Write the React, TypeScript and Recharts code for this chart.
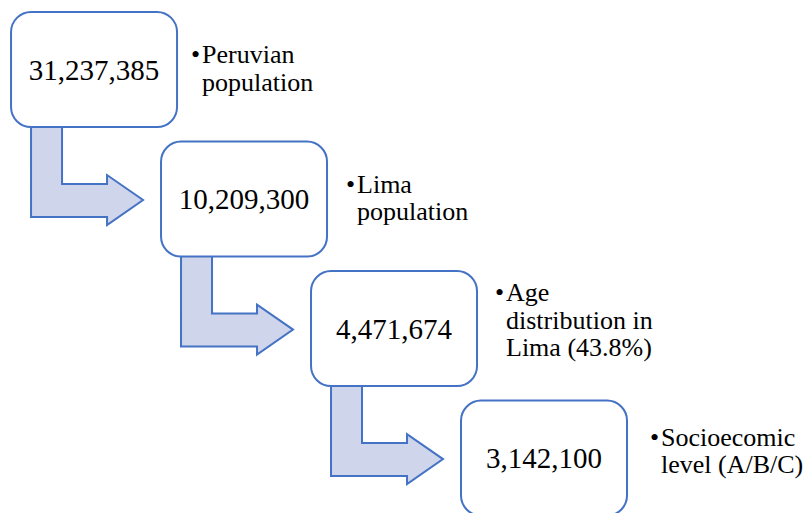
import React from 'react';
import { ScatterChart, Scatter, XAxis, YAxis } from 'recharts';

// funnel steps, top to bottom
const STAGE_VALUES = [31237385, 10209300, 4471674, 3142100];
const STAGE_LABELS = [
    ['Peruvian', 'population'],
    ['Lima', 'population'],
    ['Age', 'distribution in', 'Lima (43.8%)'],
    ['Socioecomic', 'level (A/B/C)'],
];

// small layout nudges for the side notes (bullet gap, first baseline from box top)
const NOTE_DX = [14, 19, 18, 23];
const NOTE_DY = [51, 51, 30, 45];

const BLUE = '#4472C4';
const ARROW_FILL = '#CFD5EA';
const BOX_W = 166;
const BOX_H = 115;
const SERIF = 'Liberation Serif, Times New Roman, serif';

const data = STAGE_VALUES.map((value, i) => ({
    step: i,
    level: i,
    value,
    label: STAGE_LABELS[i],
    last: i === STAGE_VALUES.length - 1,
}));

const StageShape = ({ cx, cy, payload, index }: any) => {
    const left = cx - BOX_W / 2;
    const top = cy - BOX_H / 2;
    const right = left + BOX_W;
    const bottom = top + BOX_H;
    const i = index ?? payload.step;

    const arrow = `M${left + 20},${bottom - 1} L${left + 51},${bottom - 1} L${left + 51},${bottom + 57} `
        + `L${left + 96},${bottom + 57} L${left + 96},${bottom + 48} L${left + 132},${bottom + 73} `
        + `L${left + 96},${bottom + 98} L${left + 96},${bottom + 90} L${left + 20},${bottom + 90} Z`;

    const noteX = right + NOTE_DX[i];
    const noteY = top + NOTE_DY[i];

    return (
        <g>
            {!payload.last && (
                <path d={arrow} fill={ARROW_FILL} stroke={BLUE} strokeWidth={2} strokeLinejoin="miter" />
            )}
            <rect x={left} y={top} width={BOX_W} height={BOX_H} rx={20} ry={20} fill="#fff" stroke={BLUE} strokeWidth={2} />
            <text x={cx} y={cy + 10} textAnchor="middle" fontFamily={SERIF} fontSize={29} fill="#000">
                {payload.value.toLocaleString('en-US')}
            </text>
            <text x={noteX} y={noteY} fontFamily={SERIF} fontSize={26} fill="#000">•</text>
            {payload.label.map((line: string, k: number) => (
                <text key={k} x={noteX + 11} y={noteY + k * 27.5} fontFamily={SERIF} fontSize={26} fill="#000">
                    {line}
                </text>
            ))}
        </g>
    );
};

const App = () => {
    return (
        <div style={{ position: 'absolute', left: 0, top: 0, background: '#fff' }}>
            <ScatterChart width={808} height={513} margin={{ top: 0, right: 0, bottom: 0, left: 0 }}>
                <XAxis type="number" dataKey="step" domain={[-0.627, 4.76]} allowDataOverflow hide />
                <YAxis type="number" dataKey="level" domain={[-0.537, 3.424]} allowDataOverflow reversed hide />
                <Scatter data={data} isAnimationActive={false} shape={(p: any) => <StageShape {...p} />} />
            </ScatterChart>
        </div>
    );
};

export default App;
